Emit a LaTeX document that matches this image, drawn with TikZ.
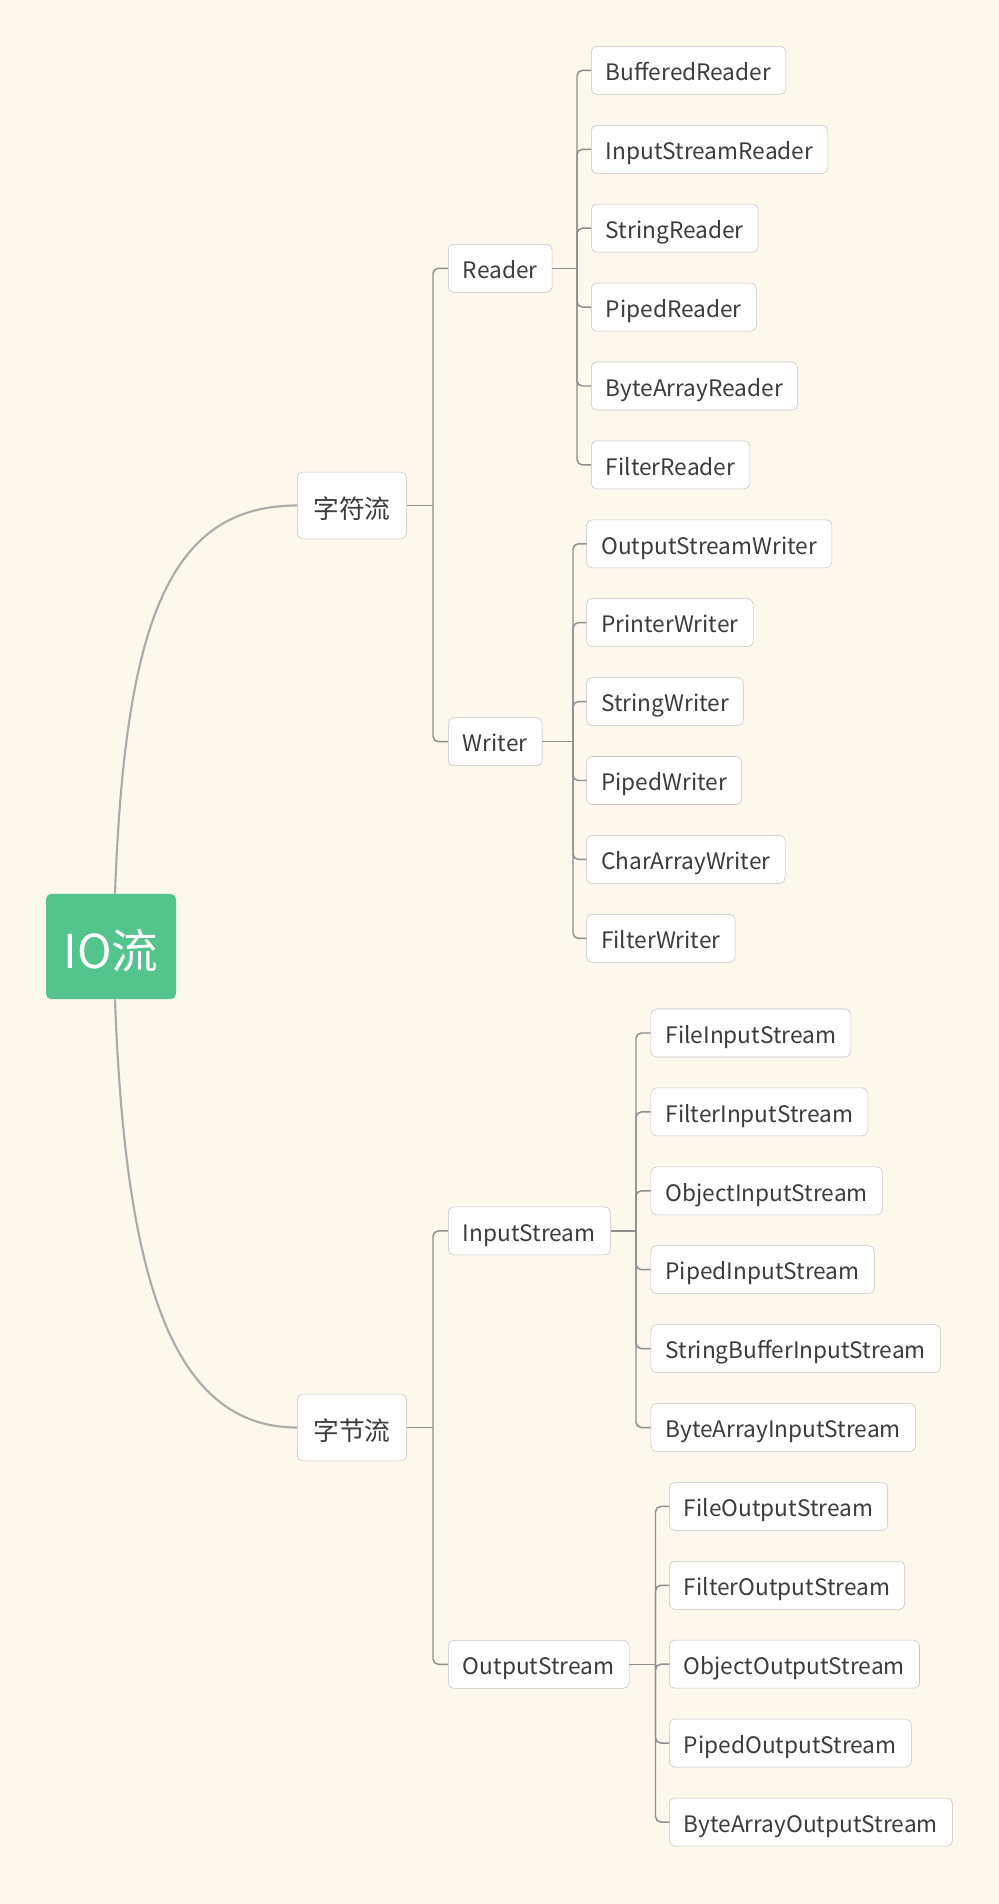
\documentclass[tikz,border=0pt]{standalone}
\usepackage{fontspec}
\setmainfont{Noto Sans CJK SC}

\definecolor{mapbg}{HTML}{FDF8EC}
\definecolor{rootgreen}{HTML}{52C48C}
\definecolor{boxline}{HTML}{C2C2C2}
\definecolor{branchgray}{HTML}{8E8E8E}
\definecolor{curvegray}{HTML}{ABABAB}
\definecolor{textgray}{HTML}{3C3C3C}

\tikzset{
  rootbox/.style={fill=rootgreen, rounded corners=4pt, text=white, inner sep=0pt,
    minimum width=97.5pt, minimum height=79pt, text height=33pt, text depth=0.6pt,
    font=\fontsize{35}{35}\selectfont},
  mainbox/.style={draw=boxline, fill=white, rounded corners=4pt, text=textgray, anchor=west,
    inner xsep=12pt, inner ysep=0pt, minimum height=50pt, text height=19.5pt, text depth=0.5pt,
    font=\fontsize{19.3}{20}\selectfont},
  subbox/.style={draw=boxline, fill=white, rounded corners=4pt, text=textgray, anchor=west,
    inner xsep=11pt, inner ysep=0pt, minimum height=36pt, text height=16pt, text depth=0.6pt,
    font=\fontsize{17}{18}\selectfont},
  branch/.style={draw=branchgray, line width=1.1pt, rounded corners=4pt},
  rootcurve/.style={draw=curvegray, line width=1.6pt},
}

\begin{document}
\begin{tikzpicture}[x=0.75pt, y=-0.75pt]
  % background
  \fill[mapbg] (0,0) rectangle (999,1904);
  \useasboundingbox (0,0) rectangle (999,1904);

  % root
  \node[rootbox] (root) at (111,946.5) {IO流};

  % first level
  \node[mainbox] (zf) at (297,505.5) {字符流};
  \node[mainbox] (zj) at (297,1427.5) {字节流};
  \draw[rootcurve] ([xshift=3pt]root.north) .. controls +(10,-274) and +(-127,0) .. (zf.west);
  \draw[rootcurve] ([xshift=3pt]root.south) .. controls +(10,274) and +(-127,0) .. (zj.west);

  % second level
  \node[subbox] (reader) at (448,268.3) {Reader};
  \node[subbox] (writer) at (448,741.7) {Writer};
  \node[subbox] (instream) at (448,1230.9) {InputStream};
  \node[subbox] (outstream) at (448,1664.3) {OutputStream};

  \coordinate (zfbus) at (433,505.5);
  \coordinate (zjbus) at (433,1427.5);
  \draw[branch] (zf.east) -- (zfbus);
  \draw[branch] (zj.east) -- (zjbus);
  \draw[branch] (zfbus) |- (reader.west);
  \draw[branch] (zfbus) |- (writer.west);
  \draw[branch] (zjbus) |- (instream.west);
  \draw[branch] (zjbus) |- (outstream.west);

  % Reader subclasses
  \coordinate (rdbus) at (577,268.3);
  \draw[branch] (reader.east) -- (rdbus);
  \foreach \name [count=\i] in {BufferedReader, InputStreamReader, StringReader,
      PipedReader, ByteArrayReader, FilterReader} {
    \node[subbox] (rd\i) at (591,{70.4+78.9*(\i-1)}) {\name};
    \draw[branch] (rdbus) |- (rd\i.west);
  }

  % Writer subclasses
  \coordinate (wrbus) at (573,741.7);
  \draw[branch] (writer.east) -- (wrbus);
  \foreach \name [count=\i] in {OutputStreamWriter, PrinterWriter, StringWriter,
      PipedWriter, CharArrayWriter, FilterWriter} {
    \node[subbox] (wr\i) at (586.3,{543.8+78.9*(\i-1)}) {\name};
    \draw[branch] (wrbus) |- (wr\i.west);
  }

  % InputStream subclasses
  \coordinate (isbus) at (636,1230.9);
  \draw[branch] (instream.east) -- (isbus);
  \foreach \name [count=\i] in {FileInputStream, FilterInputStream, ObjectInputStream,
      PipedInputStream, StringBufferInputStream, ByteArrayInputStream} {
    \node[subbox] (is\i) at (650.7,{1033.0+78.9*(\i-1)}) {\name};
    \draw[branch] (isbus) |- (is\i.west);
  }

  % OutputStream subclasses
  \coordinate (osbus) at (655.5,1664.3);
  \draw[branch] (outstream.east) -- (osbus);
  \foreach \name [count=\i] in {FileOutputStream, FilterOutputStream, ObjectOutputStream,
      PipedOutputStream, ByteArrayOutputStream} {
    \node[subbox] (os\i) at (669,{1506.4+78.9*(\i-1)}) {\name};
    \draw[branch] (osbus) |- (os\i.west);
  }
\end{tikzpicture}
\end{document}
